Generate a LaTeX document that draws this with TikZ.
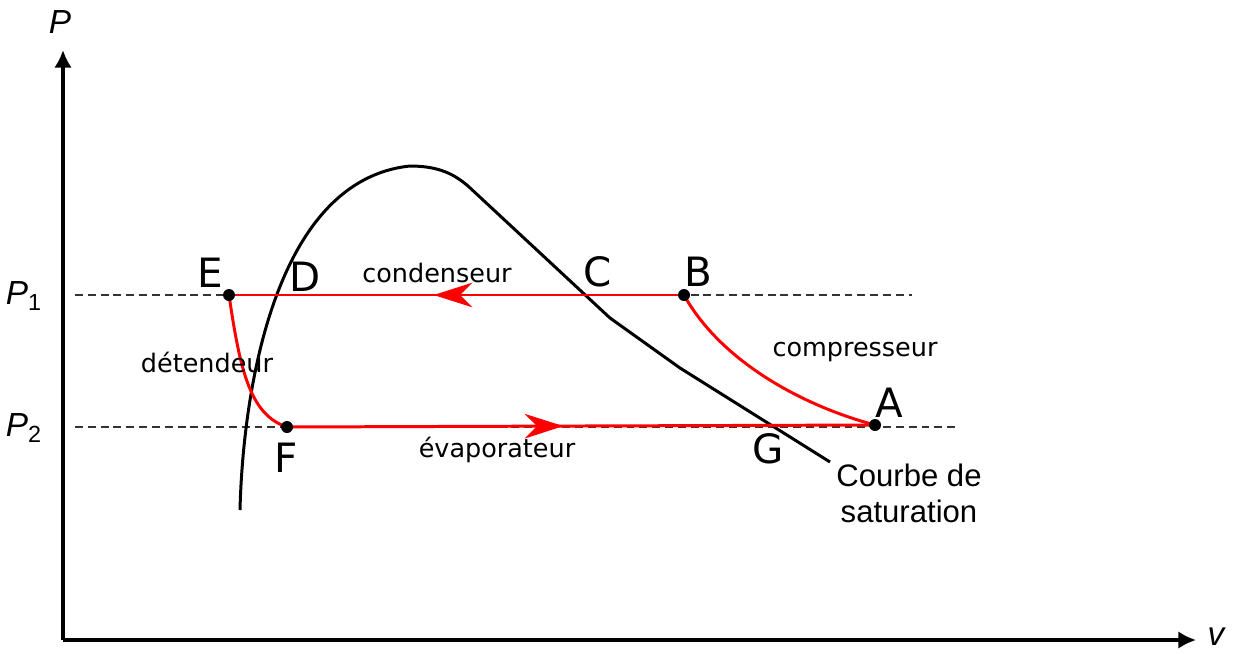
\documentclass[tikz,border=0pt]{standalone}
\usepackage{fontspec}
\setmainfont{DejaVu Sans}
\newfontfamily\arialfont{Liberation Sans}
\usetikzlibrary{arrows.meta,decorations.markings}

\tikzset{
  axis/.style={line width=1.9pt,-{Latex[length=10pt,width=10pt]}},
  levelline/.style={dash pattern=on 4.5pt off 2.8pt,line width=0.6pt,black!80},
  satcurve/.style={line width=1.7pt,line join=round},
  cycleline/.style={red,line width=1.7pt},
  midarrow/.style={postaction={decorate},decoration={markings,
      mark=at position #1 with {\arrow{Stealth[length=22pt,width=14pt,inset=7pt]}}}},
  letter/.style={font=\fontsize{23}{26}\selectfont},
  proc/.style={font=\fontsize{14.5}{17}\selectfont}
}

\begin{document}
\begin{tikzpicture}[x=0.02cm,y=-0.02cm,>=Latex]
  \useasboundingbox (0,0) rectangle (1238,653);
  % axes, the unit is one pixel of the figure, y going down
  \coordinate (O) at (63,640);
  \coordinate (ytop) at (63,50);
  \coordinate (xend) at (1196,640);
  \draw[axis] (O) -- (ytop);
  \draw[axis] (O) -- (xend);
  \node[font=\arialfont\itshape\fontsize{19}{22}\selectfont] (Plab) at (60,22) {P};
  \node[font=\arialfont\itshape\fontsize{19}{22}\selectfont] (vlab) at (1216,637) {v};
  % the two pressure levels
  \coordinate (p1l) at (75,295);  \coordinate (p1r) at (912,295);
  \coordinate (p2l) at (75,427);  \coordinate (p2r) at (958,427);
  \draw[levelline] (p1l) -- (p1r);
  \draw[levelline] (p2l) -- (p2r);
  \node[font=\arialfont\fontsize{19}{22}\selectfont] (P1) at (24,296) {\textit{P}\textsubscript{1}};
  \node[font=\arialfont\fontsize{19}{22}\selectfont] (P2) at (24,428) {\textit{P}\textsubscript{2}};
  % saturation curve: liquid side up to the top, then the vapour side
  \coordinate (s0) at (240,510);
  \coordinate (top) at (410,166);
  \coordinate (s1) at (468,186);
  \coordinate (s2) at (610,318);
  \coordinate (s3) at (680,368);
  \coordinate (s4) at (830,462);
  \draw[satcurve] (s0) .. controls (243,390) and (275,180) .. (top)
                  .. controls (440,166) and (455,175) .. (s1)
                  -- (s2) -- (s3) -- (s4);
  \node[font=\arialfont\fontsize{17.7}{20.4}\selectfont,align=center] (courbe) at (909,493)
       {Courbe de\\saturation};
  % points of the cycle
  \coordinate (E) at (229,295);
  \coordinate (B) at (684,295);
  \coordinate (A) at (875,425);
  \coordinate (F) at (287,427);
  % condenseur B -> E and evaporateur F -> A
  \draw[cycleline,midarrow=0.55] (B) -- (E);
  \draw[cycleline,midarrow=0.47] (F) -- (A);
  % compresseur A -> B and detendeur E -> F
  \draw[cycleline] (B) .. controls (720,360) and (800,405) .. (A);
  \draw[cycleline] (E) .. controls (240,370) and (250,415) .. (F);
  \foreach \p in {E,B,A,F}
    \fill (\p) circle[radius=0.12cm];
  % letters
  \node[letter] (Elab) at (210,273) {E};
  \node[letter] (Dlab) at (305,277) {D};
  \node[letter] (Clab) at (598,272) {C};
  \node[letter] (Blab) at (698,272) {B};
  \node[letter] (Alab) at (889,403) {A};
  \node[letter] (Flab) at (286,458) {F};
  \node[letter] (Glab) at (768,449) {G};
  % names of the parts
  \node[proc] (cond) at (437,273) {condenseur};
  \node[proc] (comp) at (855,352) {compresseur};
  \node[proc] (det)  at (207,362) {détendeur};
  \node[proc] (evap) at (497,450) {évaporateur};
\end{tikzpicture}
\end{document}
